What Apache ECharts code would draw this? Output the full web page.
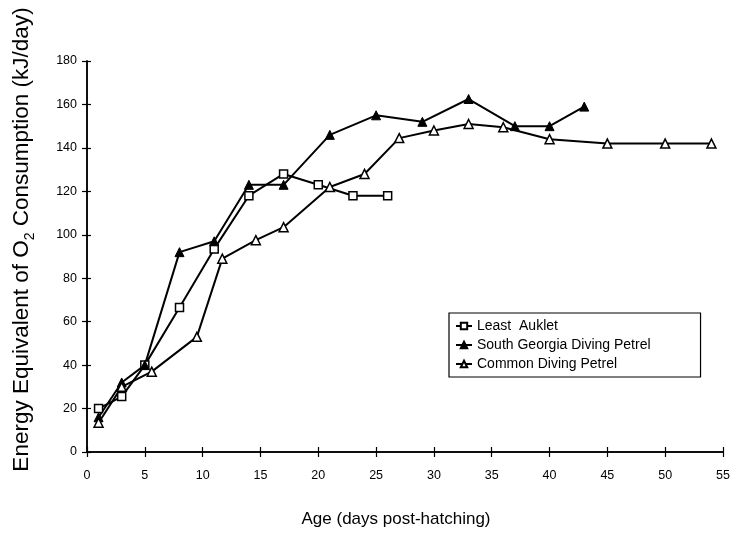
<!DOCTYPE html>
<html>
<head>
<meta charset="utf-8">
<script src="https://cdn.jsdelivr.net/npm/echarts@6/dist/echarts.min.js"></script>
<style>html,body{margin:0;padding:0;background:#fff;}#c{width:736px;height:533px;}</style>
</head>
<body>
<div id="c"></div>
<script>
// Least Auklet
var laX = [1, 3, 5, 8, 11, 14, 17, 20, 23, 26];
var laY = [20, 25.5, 40, 66.5, 93.5, 118, 128, 123, 118, 118];
// South Georgia Diving Petrel
var sgX = [1, 3, 5, 8, 11, 14, 17, 21, 25, 29, 33, 37, 40, 43];
var sgY = [16, 32, 40, 92, 97, 123, 123, 146, 155, 152, 162.5, 150, 150, 159];
// Common Diving Petrel
var cdX = [1, 3, 5.6, 9.5, 11.7, 14.6, 17, 21, 24, 27, 30, 33, 36, 40, 45, 50, 54];
var cdY = [13.5, 30, 37, 53, 89, 97.5, 103.5, 122, 128, 144.5, 148, 151, 149.5, 144, 142, 142, 142];

var seriesNames = ['Least  Auklet', 'South Georgia Diving Petrel', 'Common Diving Petrel'];
var xTicks = [0, 55, 5];   // min, max, interval
var yTicks = [0, 180, 20];

function pairs(xs, ys) { return xs.map(function (x, i) { return [x, ys[i]]; }); }

var FONT = 'Liberation Sans, Arial, sans-serif';
var chart = echarts.init(document.getElementById('c'));
var axisCommon = {
  axisLine: { lineStyle: { color: '#000', width: 1.5 } },
  splitLine: { show: false }
};
chart.setOption({
  backgroundColor: '#fff',
  animation: false,
  grid: { left: 87, right: 13, top: 61, bottom: 80 },
  xAxis: [
    Object.assign({
      type: 'value', min: xTicks[0], max: xTicks[1], interval: xTicks[2],
      name: 'Age (days post-hatching)', nameLocation: 'middle', nameGap: 59,
      nameTextStyle: { fontFamily: FONT, fontSize: 17, color: '#000', padding: [0, 18, 0, 0] },
      axisTick: { show: true, inside: false, length: 5, lineStyle: { color: '#000', width: 1.2 } },
      axisLabel: { color: '#000', fontFamily: FONT, fontSize: 12.5, margin: 17 }
    }, axisCommon),
    Object.assign({
      type: 'value', min: xTicks[0], max: xTicks[1], interval: xTicks[2], position: 'bottom',
      axisTick: { show: true, inside: true, length: 5, lineStyle: { color: '#000', width: 1.2 } },
      axisLabel: { show: false }
    }, axisCommon)
  ],
  yAxis: [
    Object.assign({
      type: 'value', min: yTicks[0], max: yTicks[1], interval: yTicks[2],
      name: '{a|Energy Equivalent of O}{s|2}{a| Consumption (kJ/day)}',
      nameLocation: 'middle', nameGap: 54,
      nameTextStyle: {
        fontFamily: FONT, fontSize: 22.5, color: '#000', padding: [0, 0, 0, 34],
        rich: {
          a: { fontFamily: FONT, fontSize: 22.5, color: '#000', verticalAlign: 'bottom', lineHeight: 26 },
          s: { fontFamily: FONT, fontSize: 14, color: '#000', verticalAlign: 'bottom', lineHeight: 17, padding: [0, 0, -4, 0] }
        }
      },
      axisTick: { show: true, inside: false, length: 5, lineStyle: { color: '#000', width: 1.2 } },
      axisLabel: { color: '#000', fontFamily: FONT, fontSize: 12.5, margin: 10 }
    }, axisCommon),
    Object.assign({
      type: 'value', min: yTicks[0], max: yTicks[1], interval: yTicks[2], position: 'left',
      axisTick: { show: true, inside: true, length: 4, lineStyle: { color: '#000', width: 1.2 } },
      axisLabel: { show: false }
    }, axisCommon)
  ],
  legend: {
    orient: 'vertical', left: 449, top: 313,
    backgroundColor: '#fff',
    borderColor: '#000', borderWidth: 1.2, borderRadius: 0,
    padding: [6, 50, 6, 6], itemGap: 5, itemWidth: 16, itemHeight: 8,
    textStyle: { fontFamily: FONT, fontSize: 14, color: '#000' },
    data: seriesNames
  },
  series: [
    {
      name: seriesNames[0], type: 'line', data: pairs(laX, laY),
      symbol: 'rect', symbolSize: 8,
      lineStyle: { color: '#000', width: 2 },
      itemStyle: { color: '#fff', borderColor: '#000', borderWidth: 1.5 }
    },
    {
      name: seriesNames[1], type: 'line', data: pairs(sgX, sgY),
      symbol: 'triangle', symbolSize: 9,
      lineStyle: { color: '#000', width: 2 },
      itemStyle: { color: '#000', borderColor: '#000', borderWidth: 1 }
    },
    {
      name: seriesNames[2], type: 'line', data: pairs(cdX, cdY),
      symbol: 'triangle', symbolSize: 9,
      lineStyle: { color: '#000', width: 2 },
      itemStyle: { color: '#fff', borderColor: '#000', borderWidth: 1.5 }
    }
  ]
});
</script>
</body>
</html>
